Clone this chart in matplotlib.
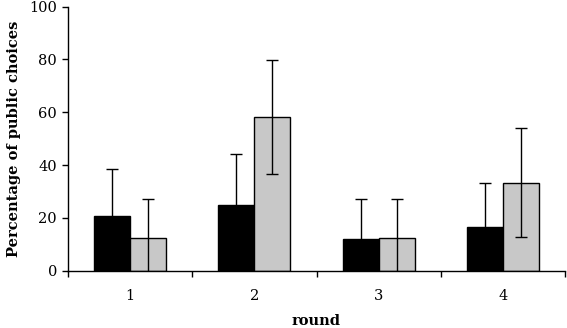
import matplotlib
matplotlib.use("Agg")
import matplotlib.pyplot as plt
import numpy as np

rounds = ["1", "2", "3", "4"]
black_vals = [20.8, 25.0, 12.0, 16.5]
black_err = [17.6, 19.2, 15.2, 16.8]
gray_vals = [12.4, 58.2, 12.5, 33.3]
gray_err = [14.6, 21.7, 14.6, 20.6]
yticks = [0, 20, 40, 60, 80, 100]

fig = plt.figure(figsize=(5.67, 3.28), dpi=100)
ax = fig.add_axes([0.12, 0.1747, 0.8765, 0.805])

x = np.arange(1, len(rounds) + 1)
w = 0.29
ekw = dict(ecolor="black", elinewidth=1.0, capsize=4.5, capthick=1.0)
ax.bar(x - w / 2, black_vals, w, color="black", edgecolor="black", linewidth=1.0,
       yerr=black_err, error_kw=ekw, zorder=2)
ax.bar(x + w / 2, gray_vals, w, color="#c8c8c8", edgecolor="black", linewidth=1.0,
       yerr=gray_err, error_kw=ekw, zorder=2)

ax.set_xlim(0.5, 4.5)
ax.set_ylim(0, 100)
ax.set_yticks(yticks)
ax.set_xticks(np.arange(0.5, 4.6, 1.0))
ax.set_xticklabels([])
ax.set_xticks(x, minor=True)
ax.set_xticklabels(rounds, minor=True)
ax.tick_params(axis="x", which="minor", length=0, pad=13)
ax.tick_params(axis="x", which="major", length=4, direction="out", width=1)
ax.tick_params(axis="y", length=4, direction="out", width=1, pad=4)
for lab in ax.get_xticklabels(minor=True) + ax.get_yticklabels():
    lab.set_fontfamily("DejaVu Serif")
    lab.set_fontsize(10.5)

ax.spines["top"].set_visible(False)
ax.spines["right"].set_visible(False)
ax.spines["left"].set_linewidth(1)
ax.spines["bottom"].set_linewidth(1)

ax.set_ylabel("Percentage of public choices", fontfamily="DejaVu Serif",
              fontweight="bold", fontsize=10.5, labelpad=6)
ax.set_xlabel("round", fontfamily="DejaVu Serif", fontweight="bold",
              fontsize=10.5, labelpad=8)

fig.savefig("out.png", dpi=100)
